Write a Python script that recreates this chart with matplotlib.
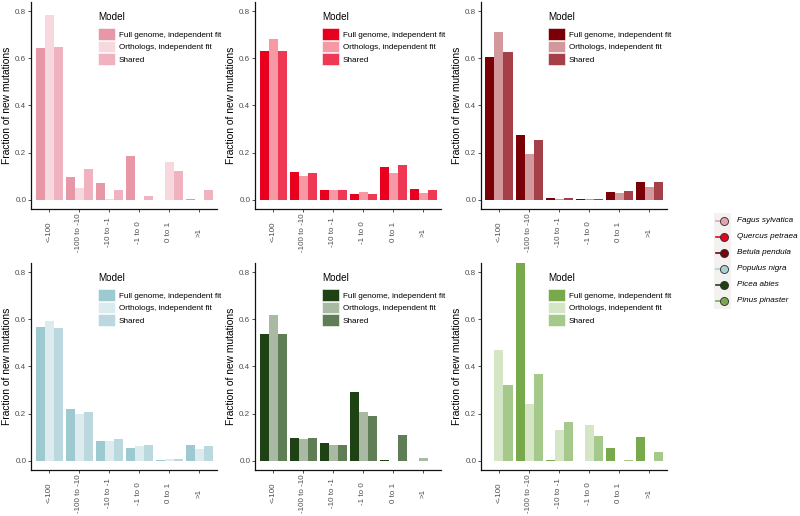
import numpy as np
import matplotlib
matplotlib.use("Agg")
import matplotlib.pyplot as plt
from matplotlib.patches import Patch, Rectangle

plt.rcParams["font.family"] = ["Liberation Sans", "DejaVu Sans"]

categories = ["<-100", "-100 to -10", "-10 to -1", "-1 to 0", "0 to 1", ">1"]
models = ["Full genome, independent fit", "Orthologs, independent fit", "Shared"]
species = ["Fagus sylvatica", "Quercus petraea", "Betula pendula",
           "Populus nigra", "Picea abies", "Pinus pinaster"]

# fraction of new mutations per category (full genome / orthologs / shared)
fagus_full = [0.643, 0.095, 0.071, 0.187, 0.0, 0.003]
fagus_orth = [0.785, 0.048, 0.002, 0.0, 0.160, 0.0]
fagus_shared = [0.648, 0.130, 0.040, 0.016, 0.120, 0.040]

quercus_full = [0.630, 0.118, 0.042, 0.023, 0.140, 0.044]
quercus_orth = [0.684, 0.099, 0.042, 0.031, 0.115, 0.027]
quercus_shared = [0.633, 0.112, 0.040, 0.025, 0.149, 0.040]

betula_full = [0.606, 0.276, 0.006, 0.001, 0.033, 0.074]
betula_orth = [0.712, 0.195, 0.004, 0.001, 0.028, 0.054]
betula_shared = [0.627, 0.255, 0.006, 0.001, 0.035, 0.074]

populus_full = [0.570, 0.218, 0.085, 0.052, 0.004, 0.065]
populus_orth = [0.595, 0.200, 0.085, 0.060, 0.005, 0.048]
populus_shared = [0.565, 0.205, 0.090, 0.068, 0.007, 0.060]

picea_full = [0.540, 0.094, 0.075, 0.290, 0.002, 0.0]
picea_orth = [0.620, 0.093, 0.068, 0.205, 0.0, 0.010]
picea_shared = [0.540, 0.094, 0.068, 0.190, 0.107, 0.0]

pinus_full = [0.0, 0.860, 0.002, 0.0, 0.055, 0.100]
pinus_orth = [0.470, 0.240, 0.130, 0.150, 0.0, 0.0]
pinus_shared = [0.320, 0.370, 0.165, 0.105, 0.003, 0.035]

fagus_colors = ["#E797A6", "#F6D8DE", "#F0B2BE"]
quercus_colors = ["#E8001E", "#F798A5", "#EE3854"]
betula_colors = ["#7A0008", "#D2989C", "#A64048"]
populus_colors = ["#9DC9D0", "#DCEBEE", "#BAD8DE"]
picea_colors = ["#1E4214", "#AAB9A3", "#607E56"]
pinus_colors = ["#78AA4C", "#D4E6C5", "#A5C88B"]

species_colors = ["#E8A0AE", "#E8001E", "#7A0008", "#A8D0D6", "#1E4214", "#78AA4C"]

panels = [
    ((fagus_full, fagus_orth, fagus_shared), fagus_colors),
    ((quercus_full, quercus_orth, quercus_shared), quercus_colors),
    ((betula_full, betula_orth, betula_shared), betula_colors),
    ((populus_full, populus_orth, populus_shared), populus_colors),
    ((picea_full, picea_orth, picea_shared), picea_colors),
    ((pinus_full, pinus_orth, pinus_shared), pinus_colors),
]

W, H = 800, 516
fig = plt.figure(figsize=(W / 100, H / 100), dpi=100)

col_left = [31, 255, 481]
row_bottom = [209, 470]
ax_w, ax_h = 186, 207

x = np.arange(len(categories))
for i, (series, colors) in enumerate(panels):
    r, c = divmod(i, 3)
    ax = fig.add_axes([col_left[c] / W, 1 - row_bottom[r] / H, ax_w / W, ax_h / H])
    for j, (vals, col) in enumerate(zip(series, colors)):
        ax.bar(x + (j - 1) * 0.3, vals, width=0.3, color=col, linewidth=0)
    ax.set_xlim(-0.6, 5.6)
    ax.set_ylim(-0.04, 0.84)
    for s in ["top", "right"]:
        ax.spines[s].set_visible(False)
    for s in ["left", "bottom"]:
        ax.spines[s].set_linewidth(0.9)
        ax.spines[s].set_color("#111111")
    ax.set_yticks([0, 0.2, 0.4, 0.6, 0.8])
    ax.set_yticklabels(["0.0", "0.2", "0.4", "0.6", "0.8"])
    ax.set_xticks(x)
    ax.set_xticklabels(categories, rotation=90, va="center", ha="center")
    ax.tick_params(length=2.2, width=0.6, color="#333333", labelsize=5.8,
                   labelcolor="#4D4D4D")
    ax.tick_params(axis="y", pad=1.2)
    ax.tick_params(axis="x", pad=14.5)
    ax.set_ylabel("Fraction of new mutations", fontsize=7.4)
    ax.yaxis.set_label_coords(-0.102, 0.5)

    ax.text(0.36, 1 - 15 / ax_h, "Model", transform=ax.transAxes,
            fontsize=7.1, va="center", ha="left")
    handles = [Patch(facecolor=col, edgecolor="white", linewidth=0.4) for col in colors]
    ax.legend(handles, models, loc="upper left", bbox_to_anchor=(0.36, 1 - 26 / ax_h),
              frameon=False, fontsize=5.9, handlelength=2.07, handleheight=1.83,
              labelspacing=0.12, handletextpad=0.5, borderpad=0, borderaxespad=0)

# species legend drawn in pixel space
lax = fig.add_axes([0, 0, 1, 1])
lax.set_xlim(0, W)
lax.set_ylim(H, 0)
lax.axis("off")
for k, (name, col) in enumerate(zip(species, species_colors)):
    yk = 221 + 16 * k
    lax.add_patch(Rectangle((714, yk - 8), 17, 16, facecolor="#F4F1F1", edgecolor="none"))
    lax.plot([716, 722], [yk, yk], color=col, lw=1.2)
    lax.plot([724], [yk], marker="o", markersize=5.8, markerfacecolor=col,
             markeredgecolor="#2B2B2B", markeredgewidth=0.6)
    lax.text(737, yk, name, fontsize=5.85, style="italic", va="center", ha="left")

fig.savefig("out.png", dpi=100)
